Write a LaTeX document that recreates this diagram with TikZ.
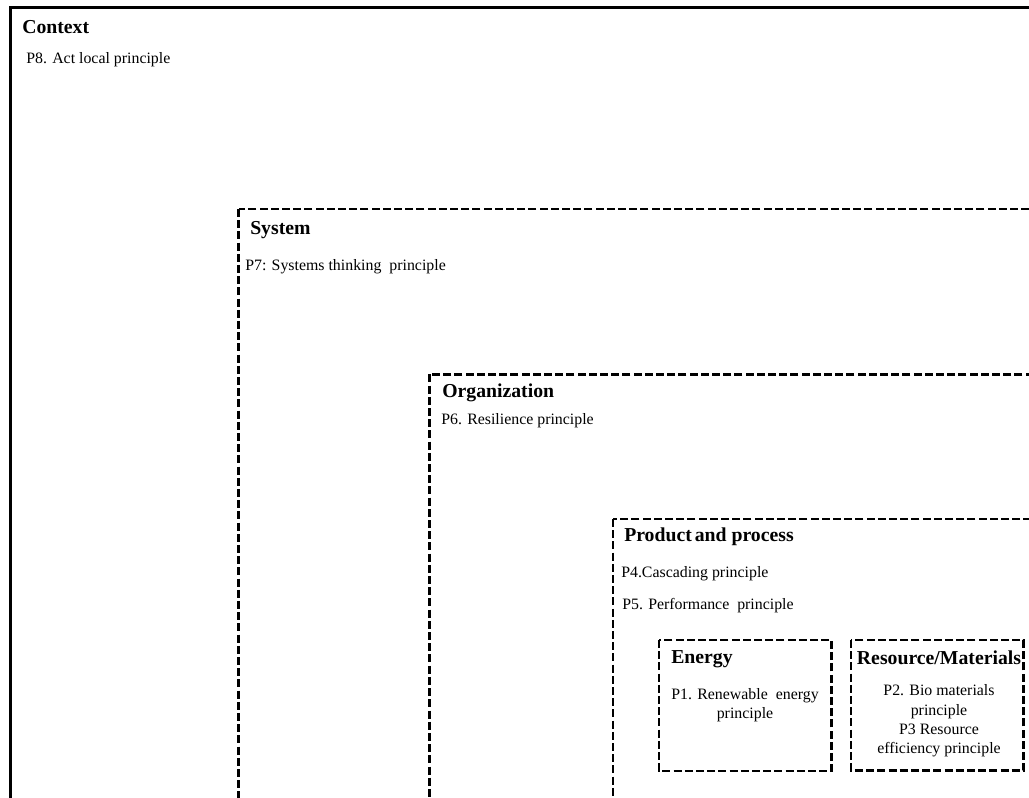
\documentclass[tikz,border=0pt]{standalone}
\usepackage{fontspec}
\setmainfont{Liberation Serif}
\begin{document}
\begin{tikzpicture}[x=0.75pt,y=-0.75pt,
  frame/.style={draw=black,line width=2.2pt},
  dbox/.style={draw=black,line width=2.1pt,dash pattern=on 6pt off 2.4pt},
  ttl/.style={inner sep=0pt,anchor=west,font=\fontsize{14.8}{16}\selectfont\bfseries},
  txt/.style={inner sep=0pt,anchor=west,font=\fontsize{11.9}{14}\selectfont},
  ctxt/.style={inner sep=0pt,align=center,font=\fontsize{11.9}{14.4}\selectfont}]
\useasboundingbox (0,0) rectangle (1029,798);
\clip (0,0) rectangle (1029,798);
\fill[white] (0,0) rectangle (1029,798);
% containers
\draw[frame] (10.5,7.5) rectangle (1060,830);
\draw[dbox] (238.5,209) rectangle (1060,830);
\draw[dbox] (429.5,374.5) rectangle (1060,830);
\draw[dbox] (613,519) rectangle (1060,830);
\draw[dbox] (659,640) rectangle (831.5,771);
\draw[dbox] (851,640) rectangle (1023.5,770.5);
% texts
\node[ttl] (ctx) at (22,27) {Context};
\node[txt] (p8) at (26,60) {P8. Act local principle};
\node[ttl] (sys) at (250,230) {System};
\node[txt] (p7) at (245,267) {P7: Systems thinking\ \ principle};
\node[ttl] (org) at (442,393) {Organization};
\node[txt] (p6) at (441,421) {P6. Resilience principle};
\node[ttl] (pp) at (624,537) {Product\hspace{0.15em}and process};
\node[txt] (p4) at (621,574) {P4.Cascading principle};
\node[txt] (p5) at (622,606) {P5. Performance\ \ principle};
\node[ttl] (en) at (671,659) {Energy};
\node[ctxt] (p1) at (745,705) {P1. Renewable\ \ energy\\principle};
\node[ttl,anchor=center] (res) at (939,658) {Resource/Materials};
\node[ctxt] (p23) at (939,721) {P2. Bio materials\\principle\\P3 Resource\\efficiency principle};
\end{tikzpicture}
\end{document}
